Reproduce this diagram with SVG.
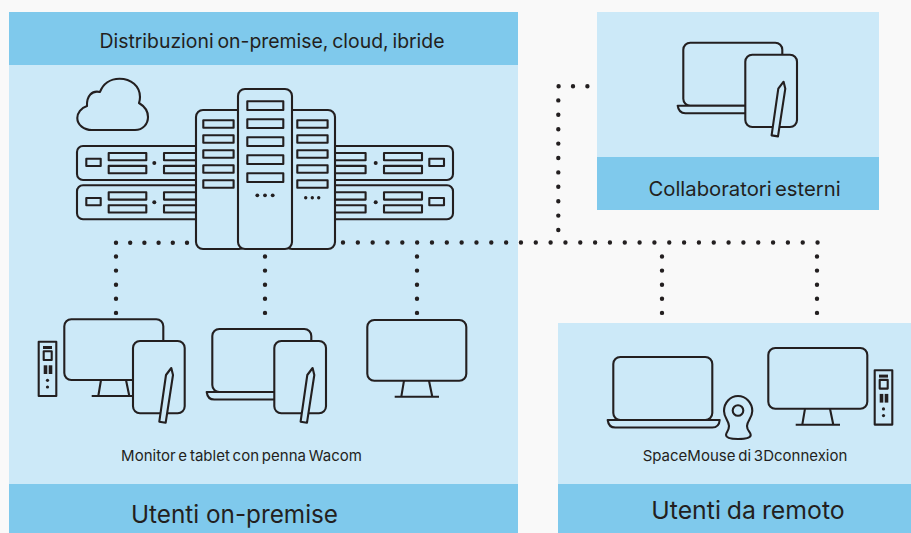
<svg xmlns="http://www.w3.org/2000/svg" width="911" height="533" viewBox="0 0 911 533">
<style>
.bg{fill:#f9f9f9}.p{fill:#cce9f8}.h{fill:#7fc9ec}
.s{fill:none;stroke:#231f20;stroke-width:2.1;stroke-linejoin:round}
.f{fill:#cce9f8;stroke:#231f20;stroke-width:2.1;stroke-linejoin:round}
.k{fill:#231f20}
.d{fill:none;stroke:#231f20;stroke-width:4.4;stroke-linecap:round}
text{font-family:Inter,"Liberation Sans",sans-serif;fill:#231f20;text-anchor:middle}
.t1{font-size:19.4px;word-spacing:-1.6px}.t2{font-size:15px;word-spacing:-1.4px}.t3{font-size:24.3px}.t5{font-size:24.8px;word-spacing:-1px}.t4{font-size:20.3px;word-spacing:-2.5px}
</style>
<defs>
<g id="tablet">
<rect class="f" x="0" y="0" width="51.7" height="72.3" rx="7"/>
<path class="f" d="M38.3 27 L33 34 L26.3 80.7 L32.7 81.7 L40 34 Z"/>
</g>
<g id="monitor">
<rect class="f" x="0" y="0" width="99" height="60.7" rx="7"/>
<path class="s" d="M36.7 60.7 L34 76.7 M61.7 60.7 L65 76.7 M27.4 76.7 H71.7" />
</g>
<g id="laptop">
<rect class="f" x="0" y="0" width="99" height="63" rx="7"/>
<path class="f" d="M-5.6 63 H106.4 C106 68 103 70.5 99 70.5 H2 C-2 70.5 -5 68 -5.6 63 Z"/>
</g>
<g id="pc">
<rect class="f" x="0" y="0" width="17.6" height="54.3"/>
<rect class="k" x="4.3" y="4.3" width="9" height="3"/>
<rect class="s" x="5" y="9.6" width="8" height="8.7"/>
<rect class="k" x="5" y="23.6" width="3.6" height="8.7"/>
<rect class="k" x="10" y="23.6" width="3.6" height="8.7"/>
<circle class="k" cx="8.8" cy="38.6" r="1.6"/>
<circle class="k" cx="8.8" cy="45.3" r="1.6"/>
</g>
<g id="rack">
<rect class="f" x="77" y="146" width="376" height="34" rx="6"/>
<rect class="s" x="86.3" y="158.7" width="14.4" height="7.3"/>
<rect class="s" x="108.7" y="153" width="37.6" height="7.3"/>
<rect class="s" x="108.7" y="165.9" width="37.6" height="7.3"/>
<circle class="k" cx="154.3" cy="163" r="2"/>
<rect class="s" x="164" y="153" width="37.6" height="7.3"/>
<rect class="s" x="164" y="165.9" width="37.6" height="7.3"/>
<rect class="s" x="328" y="153" width="37.6" height="7.3"/>
<rect class="s" x="328" y="165.9" width="37.6" height="7.3"/>
<circle class="k" cx="375.7" cy="163" r="2"/>
<rect class="s" x="384" y="153" width="38" height="7.3"/>
<rect class="s" x="384" y="165.9" width="38" height="7.3"/>
<rect class="s" x="429.3" y="158.7" width="14.7" height="7.3"/>
</g>
<g id="slots-s">
<rect class="s" x="0" y="0" width="30.3" height="7.4"/>
<rect class="s" x="0" y="15" width="30.3" height="7.4"/>
<rect class="s" x="0" y="30" width="30.3" height="7.4"/>
<rect class="s" x="0" y="45" width="30.3" height="7.4"/>
<rect class="s" x="0" y="60" width="30.3" height="7.4"/>
</g>
</defs>
<rect class="bg" width="911" height="533"/>
<g id="panel-onpremise">
<rect class="p" x="9" y="12" width="509" height="521"/>
<rect class="h" x="9" y="12" width="509" height="53"/>
<rect class="h" x="9" y="484" width="509" height="49"/>
<text class="t1" x="272" y="47.700">Distribuzioni on-premise, cloud, ibride</text>
<text class="t2" x="241.500" y="461">Monitor e tablet con penna Wacom</text>
<text class="t3" x="234.500" y="522.700">Utenti on-premise</text>
</g>
<g id="panel-esterni">
<rect class="p" x="597" y="12" width="282" height="198"/>
<rect class="h" x="597" y="157" width="282" height="53"/>
<text class="t4" x="744.500" y="195.700">Collaboratori esterni</text>
</g>
<g id="panel-remoto">
<rect class="p" x="558" y="323" width="353" height="210"/>
<rect class="h" x="558" y="484" width="353" height="49"/>
<text class="t2" x="745" y="461">SpaceMouse di 3Dconnexion</text>
<text class="t5" x="748" y="519.300">Utenti da remoto</text>
</g>
<g id="connectors">
<path class="d" stroke-dasharray="0 14.2" d="M116 242.700 H190"/>
<path class="d" stroke-dasharray="0 14.830" d="M343 242.500 H820"/>
<path class="d" stroke-dasharray="0 14.400" d="M558.300 230 V86.300 H590"/>
<path class="d" stroke-dasharray="0 14.100" d="M116 256.500 V315"/>
<path class="d" stroke-dasharray="0 14.100" d="M265 256.500 V315"/>
<path class="d" stroke-dasharray="0 14.100" d="M417 256.500 V315"/>
<path class="d" stroke-dasharray="0 14.100" d="M662 256.500 V315"/>
<path class="d" stroke-dasharray="0 14.100" d="M817 256.500 V315"/>
</g>
<g id="cloud">
<path class="s" d="M92 130 H135 C143 130 148 124 148 117 C148 111 144 106 139 103 C140 100 140 98 140 97 C140 86 131 78.700 119.500 78.700 C110 78.700 103 84 100 92 C92 90 86.500 96 87 106 C81 108 77.300 113 77.300 118 C77.300 125 84 130 92 130 Z"/>
</g>
<g id="server">
<use href="#rack"/>
<use href="#rack" y="39.300"/>
<rect class="f" x="196" y="110" width="50" height="139" rx="7"/>
<use href="#slots-s" x="203.300" y="120.300"/>
<rect class="f" x="285" y="110" width="50" height="139" rx="7"/>
<use href="#slots-s" x="297.300" y="120.300"/>
<circle class="k" cx="305.700" cy="197.700" r="1.700"/><circle class="k" cx="312.300" cy="197.700" r="1.700"/><circle class="k" cx="318.700" cy="197.700" r="1.700"/>
<rect class="f" x="238" y="89" width="54" height="160" rx="7"/>
<rect class="s" x="247.300" y="101.300" width="36" height="8.700"/>
<rect class="s" x="247.300" y="119.300" width="36" height="8.700"/>
<rect class="s" x="247.300" y="137.300" width="36" height="8.700"/>
<rect class="s" x="247.300" y="155.300" width="36" height="8.700"/>
<rect class="s" x="247.300" y="173.300" width="36" height="8.700"/>
<circle class="k" cx="257.300" cy="195.300" r="1.900"/><circle class="k" cx="265" cy="195.300" r="1.900"/><circle class="k" cx="272.700" cy="195.300" r="1.900"/>
</g>
<g id="workstation-1">
<use href="#pc" x="38.700" y="341.700"/>
<use href="#monitor" x="64.300" y="319.300"/>
<use href="#tablet" x="133" y="341"/>
</g>
<g id="workstation-2">
<use href="#laptop" x="212.300" y="329"/>
<use href="#tablet" x="274.300" y="341"/>
</g>
<g id="workstation-3">
<use href="#monitor" x="367.300" y="320"/>
</g>
<g id="collaboratore">
<use href="#laptop" x="683.300" y="42.700"/>
<use href="#tablet" x="745.300" y="54.700"/>
</g>
<g id="remoto-laptop">
<use href="#laptop" x="613.300" y="357"/>
</g>
<g id="spacemouse">
<path class="s" d="M738 396 C746 396 752.300 403 752.300 411 C752.300 418 747 421 747 426 C747 431 750.700 432 750.700 435 C750.700 438 745 439 738 439 C731 439 726 438 726 435 C726 432 729 431 729 426 C729 421 724 418 724 411 C724 403 730 396 738 396 Z"/>
<circle class="s" cx="738" cy="410.500" r="5.300"/>
</g>
<g id="remoto-monitor">
<use href="#monitor" x="768.300" y="348"/>
<use href="#pc" x="874.700" y="370.300"/>
</g>
</svg>
